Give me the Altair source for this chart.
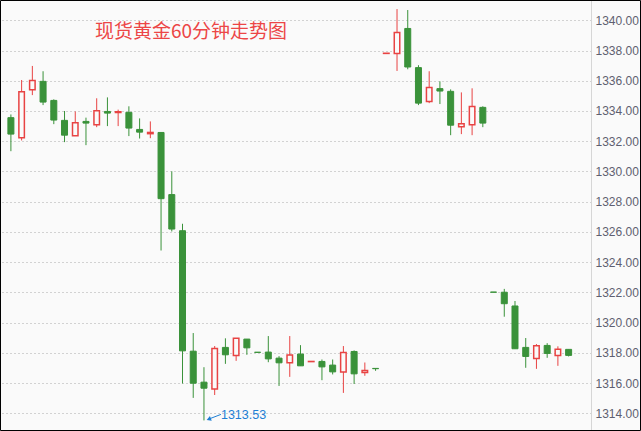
import altair as alt
import pandas as pd

# Hourly bars for spot gold (OHLC), in time order
bar_no = list(range(1, 54))
open_px = [1333.56, 1332.23, 1335.41, 1335.96, 1334.70, 1333.38, 1332.36, 1333.31, 1333.09, 1333.97,
           1333.90, 1333.91, 1332.78, 1332.50, 1332.58, 1328.47, 1326.08, 1318.11, 1316.06, 1315.61,
           1318.36, 1317.83, 1318.91, 1318.04, 1318.05, 1317.65, 1317.34, 1317.92, 1317.42, 1317.43,
           1317.19, 1316.74, 1318.09, 1316.70, 1316.97, 1337.81, 1337.80, 1339.46, 1336.87, 1334.62,
           1335.48, 1335.30, 1332.96, 1333.09, 1334.24, 1322.02, 1322.01, 1321.10, 1318.36, 1317.63,
           1318.49, 1317.83, 1318.23]
high_px = [1333.77, 1336.05, 1336.98, 1336.63, 1334.77, 1334.00, 1333.97, 1333.56, 1334.84, 1334.90,
           1334.09, 1334.31, 1333.51, 1333.31, 1332.58, 1330.01, 1326.54, 1319.31, 1317.05, 1318.45,
           1318.96, 1318.96, 1318.91, 1318.04, 1319.11, 1317.78, 1319.11, 1318.51, 1317.43, 1317.56,
           1317.56, 1318.45, 1318.16, 1317.36, 1316.97, 1337.82, 1340.74, 1340.68, 1337.03, 1336.63,
           1335.96, 1335.43, 1335.23, 1335.50, 1334.31, 1322.02, 1322.23, 1321.43, 1318.98, 1318.58,
           1318.64, 1318.43, 1318.23]
low_px = [1331.34, 1332.05, 1335.05, 1334.39, 1333.13, 1331.94, 1332.36, 1331.74, 1332.93, 1333.00,
          1333.00, 1332.34, 1332.18, 1332.20, 1324.77, 1326.03, 1315.97, 1315.02, 1313.53, 1315.21,
          1317.27, 1317.47, 1317.87, 1318.03, 1317.38, 1315.81, 1316.41, 1317.14, 1317.42, 1316.19,
          1316.57, 1315.35, 1315.94, 1316.48, 1316.81, 1337.81, 1336.65, 1336.76, 1334.39, 1334.52,
          1334.46, 1332.40, 1332.47, 1332.40, 1332.93, 1322.01, 1320.39, 1318.27, 1317.01, 1316.94,
          1317.67, 1317.14, 1317.76]
close_px = [1332.47, 1335.28, 1336.01, 1334.59, 1333.40, 1332.40, 1333.22, 1333.20, 1334.02, 1333.86,
            1333.95, 1332.87, 1332.60, 1332.58, 1328.20, 1326.19, 1318.13, 1315.99, 1315.66, 1318.29,
            1317.87, 1318.96, 1318.33, 1318.03, 1317.60, 1317.34, 1317.85, 1317.14, 1317.43, 1317.07,
            1316.74, 1318.03, 1316.61, 1316.83, 1316.95, 1337.82, 1339.20, 1336.91, 1334.52, 1335.55,
            1335.32, 1333.06, 1333.16, 1334.29, 1333.20, 1322.01, 1321.25, 1318.27, 1317.76, 1318.47,
            1317.96, 1318.23, 1317.83]

price_ticks = list(range(1314, 1341, 2))
title_text = "现货黄金60分钟走势图"

RED = "#e84343"
GREEN = "#3a923a"
BG = "#fafafa"
BLUE = "#1e7fd4"

df = pd.DataFrame({"i": bar_no, "open": open_px, "high": high_px,
                   "low": low_px, "close": close_px})
df["dir"] = ["up" if c > o else "down" for o, c in zip(open_px, close_px)]

x_enc = alt.X("i:Q", scale=alt.Scale(domain=[0.45, 54.62], nice=False, zero=False), axis=None)
y_scale = alt.Scale(domain=[1312.895, 1341.343], nice=False, zero=False)
y_axis = alt.Axis(orient="right", values=price_ticks, format=".2f", title=None,
                  grid=True, gridDash=[1, 3], gridColor="#aaaaaa", gridWidth=1,
                  ticks=False, domain=True, domainColor="#d6d6d6",
                  labelColor="#5e5f70", labelFont="Liberation Sans",
                  labelFontSize=12, labelPadding=4)


def y_of(field):
    return alt.Y(field, scale=y_scale, axis=y_axis)


dir_color = alt.Color("dir:N", scale=alt.Scale(domain=["up", "down"], range=[RED, GREEN]), legend=None)

base = alt.Chart(df)

wicks = base.mark_rule(strokeWidth=1).encode(
    x=x_enc, y=y_of("low:Q"), y2="high:Q", color=dir_color,
)

down_bodies = base.transform_filter(alt.datum.dir == "down").mark_bar(
    size=6, fill=GREEN, stroke=GREEN, strokeWidth=1
).encode(x=x_enc, y=y_of("open:Q"), y2="close:Q")

up_bodies = base.transform_filter(alt.datum.dir == "up").mark_bar(
    size=5.5, fill=BG, stroke=RED, strokeWidth=1.5
).encode(x=x_enc, y=y_of("close:Q"), y2="open:Q")

# Annotation of the session low
low_row = df.loc[[df["low"].idxmin()]]
ann = alt.Chart(low_row)
low_label = ann.mark_text(align="left", baseline="middle", dx=17, dy=-5, fontSize=12.5,
                          font="Liberation Sans", color=BLUE).encode(
    x=x_enc, y=y_of("low:Q"), text=alt.Text("low:Q", format=".2f"))
low_arrow = ann.mark_rule(color=BLUE, strokeWidth=1, xOffset=4, x2Offset=17,
                          yOffset=-1, y2Offset=-6).encode(
    x=x_enc, x2="i:Q", y=y_of("low:Q"), y2="low:Q")
arrow_head = ann.mark_point(shape="triangle", angle=249, size=26, filled=True, opacity=1,
                            color=BLUE, xOffset=5.5, yOffset=-1.5).encode(
    x=x_enc, y=y_of("low:Q"))

title = alt.Chart(pd.DataFrame({"t": [title_text]})).mark_text(
    align="left", baseline="middle", fontSize=19, font="Noto Sans CJK SC", color="#ec4646"
).encode(x=alt.value(95), y=alt.value(32), text="t:N")

frame = alt.Chart(pd.DataFrame({"f": [0]})).mark_rect(
    fillOpacity=0, stroke="#000000", strokeWidth=1
).encode(x=alt.value(0.5), x2=alt.value(640.5), y=alt.value(0.5), y2=alt.value(430.5))

chart = alt.layer(wicks, down_bodies, up_bodies, low_arrow, arrow_head, low_label, title, frame).properties(
    width=591, height=430,
    padding={"left": 0, "top": 0, "right": 50, "bottom": 1},
    autosize=alt.AutoSizeParams(type="none"),
    background=BG,
).configure_view(stroke=None)

chart.save("out.html", embed_options={"renderer": "svg", "actions": False})
